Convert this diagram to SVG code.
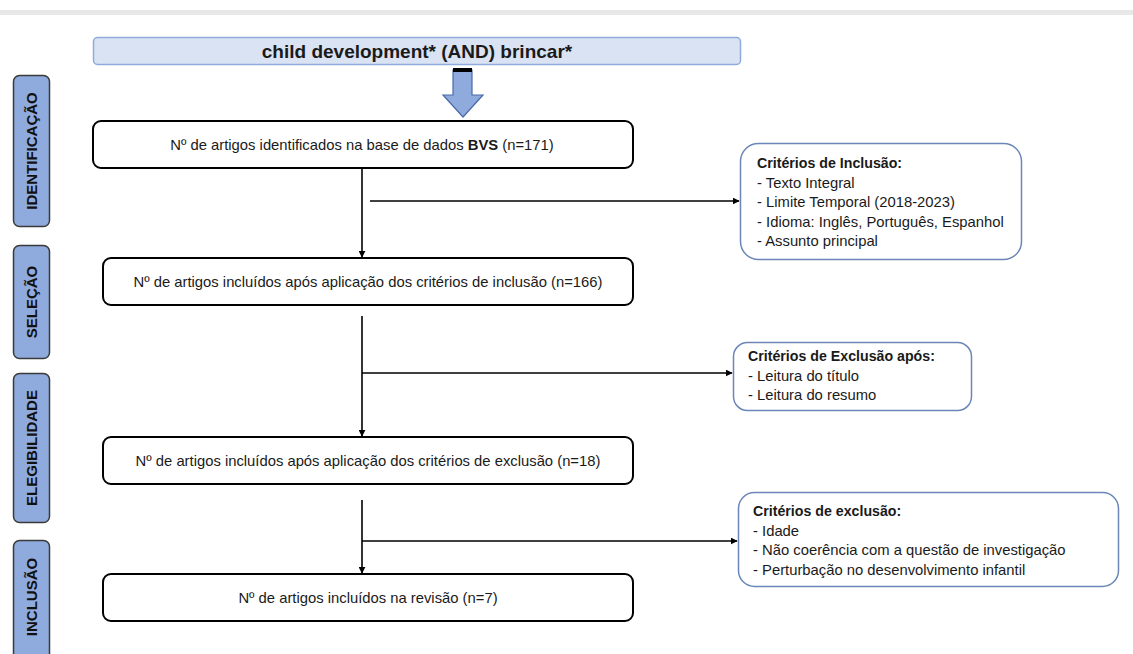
<svg xmlns="http://www.w3.org/2000/svg" width="1133" height="654" viewBox="0 0 1133 654">
<style>
.t{font-family:"Liberation Sans",Arial,sans-serif;font-size:14.8px;fill:#1a1a1a}
.b{font-weight:bold}
.h{font-family:"Liberation Sans",Arial,sans-serif;font-size:14.2px;font-weight:bold;fill:#1a1a1a}
.box{fill:#fff;stroke:#000;stroke-width:2}
.side{fill:#fff;stroke:#6b86b8;stroke-width:1.5}
.tab{fill:#8faadc;stroke:#3a3a3a;stroke-width:1.5}
.tabt{font-family:"Liberation Sans",Arial,sans-serif;font-size:15px;font-weight:bold;fill:#111}
.ln{stroke:#000;stroke-width:1.6;fill:none}
</style>
<defs>
<marker id="ah" viewBox="0 0 10 10" refX="9" refY="5" markerWidth="7" markerHeight="7" markerUnits="userSpaceOnUse" orient="auto"><path d="M0,0 L10,5 L0,10 z" fill="#000"/></marker>
</defs>
<rect x="0" y="0" width="1133" height="654" fill="#fff"/>
<rect x="0" y="10" width="1133" height="5" fill="#e8e8e8"/>

<g id="title">
<rect x="93.5" y="37.5" width="647" height="27" rx="4" fill="#dae3f3" stroke="#8faadc" stroke-width="1.5"/>
<text x="417" y="57.5" text-anchor="middle" class="t b" style="font-size:19px">child development* (AND) brincar*</text>
</g>
<g id="blockarrow">
<path d="M453,70 L472,70 L472,95 L483,95 L463,117 L443,95 L453,95 Z" fill="#8faadc" stroke="#4a6aa8" stroke-width="1.2"/>
<rect x="453" y="68" width="19" height="4" fill="#000"/>
</g>

<g id="tab-identificacao">
<rect x="13.5" y="75.5" width="36" height="151" rx="6" class="tab"/>
<text transform="translate(37,151) rotate(-90)" text-anchor="middle" class="tabt">IDENTIFICAÇÃO</text>
</g>
<g id="tab-selecao">
<rect x="13.5" y="245.5" width="36" height="113" rx="6" class="tab"/>
<text transform="translate(37,302) rotate(-90)" text-anchor="middle" class="tabt">SELEÇÃO</text>
</g>
<g id="tab-elegibilidade">
<rect x="13.5" y="373.5" width="36" height="149" rx="6" class="tab"/>
<text transform="translate(37,448) rotate(-90)" text-anchor="middle" class="tabt">ELEGIBILIDADE</text>
</g>
<g id="tab-inclusao">
<rect x="13.5" y="540.5" width="36" height="130" rx="6" class="tab"/>
<text transform="translate(37,597) rotate(-90)" text-anchor="middle" class="tabt">INCLUSÃO</text>
</g>

<g id="box1">
<rect x="93" y="121" width="540" height="47" rx="8" class="box"/>
<text x="362" y="150" text-anchor="middle" class="t">Nº de artigos identificados na base de dados <tspan class="b">BVS</tspan> (n=171)</text>
</g>
<g id="box2">
<rect x="103" y="258" width="530" height="47" rx="8" class="box"/>
<text x="368" y="287" text-anchor="middle" class="t">Nº de artigos incluídos após aplicação dos critérios de inclusão (n=166)</text>
</g>
<g id="box3">
<rect x="103" y="437" width="530" height="47" rx="8" class="box"/>
<text x="368" y="466" text-anchor="middle" class="t">Nº de artigos incluídos após aplicação dos critérios de exclusão (n=18)</text>
</g>
<g id="box4">
<rect x="103" y="574" width="530" height="47" rx="8" class="box"/>
<text x="368" y="603" text-anchor="middle" class="t">Nº de artigos incluídos na revisão (n=7)</text>
</g>

<g id="crit-inclusao">
<rect x="740.5" y="143.5" width="281" height="116" rx="18" class="side"/>
<text x="757" y="168" class="h">Critérios de Inclusão:</text>
<text x="757" y="188" class="t">- Texto Integral</text>
<text x="757" y="207" class="t">- Limite Temporal (2018-2023)</text>
<text x="757" y="227" class="t">- Idioma: Inglês, Português, Espanhol</text>
<text x="757" y="246" class="t">- Assunto principal</text>
</g>
<g id="crit-exclusao-apos">
<rect x="733.5" y="342.5" width="238" height="68" rx="14" class="side"/>
<text x="748" y="361" class="h">Critérios de Exclusão após:</text>
<text x="748" y="381" class="t">- Leitura do título</text>
<text x="748" y="400" class="t">- Leitura do resumo</text>
</g>
<g id="crit-exclusao">
<rect x="738.5" y="492.5" width="380" height="94" rx="16" class="side"/>
<text x="753" y="516" class="h">Critérios de exclusão:</text>
<text x="753" y="536" class="t">- Idade</text>
<text x="753" y="555" class="t">- Não coerência com a questão de investigação</text>
<text x="753" y="575" class="t">- Perturbação no desenvolvimento infantil</text>
</g>

<g id="connectors">
<line x1="362" y1="168" x2="362" y2="257" class="ln" marker-end="url(#ah)"/>
<line x1="362" y1="316" x2="362" y2="436" class="ln" marker-end="url(#ah)"/>
<line x1="362" y1="500" x2="362" y2="573" class="ln" marker-end="url(#ah)"/>
<line x1="370" y1="201" x2="739" y2="201" class="ln" marker-end="url(#ah)"/>
<line x1="362" y1="373" x2="732" y2="373" class="ln" marker-end="url(#ah)"/>
<line x1="362" y1="541" x2="737" y2="541" class="ln" marker-end="url(#ah)"/>
</g>
</svg>
